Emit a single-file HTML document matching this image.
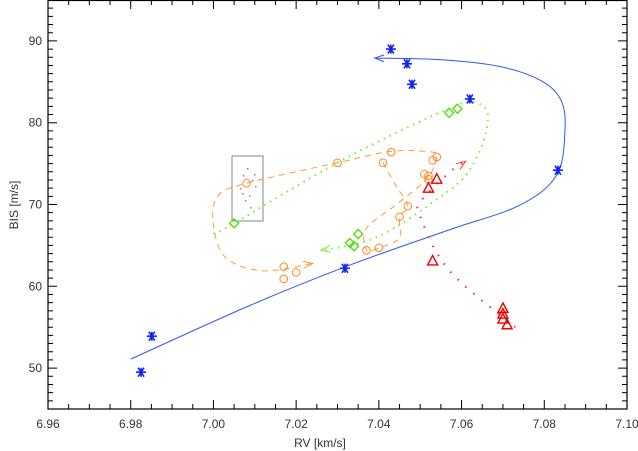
<!DOCTYPE html>
<html><head><meta charset="utf-8"><style>
html,body{margin:0;padding:0;background:#fff;}
svg{display:block;font-family:"Liberation Sans",sans-serif;}
</style></head><body>
<svg id="chart" width="638" height="451" viewBox="0 0 638 451">
<g id="axes"></g>
<g id="series"></g>
<text x="320" y="447" text-anchor="middle" font-size="12" fill="#333">RV [km/s]</text>
<text transform="translate(18,205) rotate(-90)" text-anchor="middle" font-size="12" fill="#333">BIS [m/s]</text>
</svg>
<script>
const xTicks=[6.96,6.98,7.00,7.02,7.04,7.06,7.08,7.10];
const xTickLabels=["6.96","6.98","7.00","7.02","7.04","7.06","7.08","7.10"];
const yTicks=[50,60,70,80,90];
const yTickLabels=["50","60","70","80","90"];
const starX=[6.9825,6.9851,7.0318,7.0429,7.0468,7.0480,7.0620,7.0833];
const starY=[49.5,53.9,62.2,89.0,87.2,84.7,82.9,74.2];
const blueCurveX=[6.980,7.009,7.033,7.057,7.074,7.083,7.085,7.084,7.079,7.069,7.055,7.039];
const blueCurveY=[51.1,57.7,62.6,66.9,69.9,73.6,79.1,82.8,85.2,86.9,87.7,87.9];
const diamondX=[7.005,7.057,7.059,7.033,7.034,7.035];
const diamondY=[67.7,81.2,81.7,65.3,64.9,66.4];
const greenCurveX=[7.000,7.005,7.031,7.055,7.062,7.066,7.066,7.064,7.060,7.052,7.045,7.038,7.031,7.026];
const greenCurveY=[66.4,67.7,75.4,81.3,82.5,81.6,79.1,76.1,73.0,69.9,67.5,65.7,64.8,64.4];
const circleX=[7.008,7.030,7.043,7.041,7.054,7.053,7.051,7.052,7.052,7.047,7.045,7.037,7.040,7.017,7.017,7.020];
const circleY=[72.6,75.1,76.4,75.1,75.8,75.4,73.7,73.5,73.1,69.8,68.5,64.4,64.7,62.4,60.9,61.7];
const orangeCurveX=[7.041,7.044,7.047,7.045,7.045,7.040,7.037,7.037,7.044,7.051,7.053,7.054,7.053,7.043,7.030,7.008,7.001,7.000,7.003,7.012,7.024];
const orangeCurveY=[75.1,72.4,69.8,68.5,65.9,64.7,64.4,67.1,69.9,72.8,74.2,75.7,76.4,76.5,75.1,72.6,71.0,67.5,63.5,61.9,62.8];
const triX=[7.054,7.052,7.053,7.070,7.070,7.070,7.071];
const triY=[73.1,72.0,63.1,57.3,56.6,56.0,55.3];
const redCurveX=[7.073,7.060,7.054,7.050,7.050,7.057,7.061];
const redCurveY=[55.0,60.4,64.1,68.6,70.3,73.9,75.3];

const L=48,R=627,T=0,B=409,X0=6.96,X1=7.10,Y0=45,Y1=95;
const sx=v=>L+(v-X0)/(X1-X0)*(R-L);
const sy=v=>B-(v-Y0)/(Y1-Y0)*(B-T);
const NS="http://www.w3.org/2000/svg";
function mk(tag,attrs,parent){const e=document.createElementNS(NS,tag);for(const k in attrs)e.setAttribute(k,attrs[k]);parent.appendChild(e);return e;}
const axes=document.getElementById('axes'),ser=document.getElementById('series');

const frame=mk('rect',{x:L,y:T+0.5,width:R-L,height:B-T-0.5,fill:'none',stroke:'#000','stroke-width':1.2},axes);


for(let v=6.965;v<7.1;v+=0.005){const x=sx(v);const maj=Math.abs((v-6.96)/0.02-Math.round((v-6.96)/0.02))<0.01;const len=maj?9:5;
 const t=mk('path',{d:`M${x},${B}V${B-len}M${x},${T}V${T+len}`,stroke:'#000','stroke-width':1},axes);
 
 }
for(let v=46;v<95;v+=1){const y=sy(v);const len=(v%10===0)?9:5;
 const t=mk('path',{d:`M${L},${y}H${L+len}M${R},${y}H${R-len}`,stroke:'#000','stroke-width':1},axes);
 
 }
xTicks.forEach((v,i)=>{const t=mk('text',{x:sx(v),y:428,'text-anchor':'middle','font-size':12,fill:'#333'},axes);t.textContent=xTickLabels[i];
 
 });
yTicks.forEach((v,i)=>{const t=mk('text',{x:42,y:sy(v)+4,'text-anchor':'end','font-size':12,fill:'#333'},axes);t.textContent=yTickLabels[i];
 
 });

function smooth(xs,ys){const p=xs.map((x,i)=>[sx(x),sy(ys[i])]);let d=`M${p[0][0]},${p[0][1]}`;
 for(let i=0;i<p.length-1;i++){const p0=p[i-1]||p[i],p1=p[i],p2=p[i+1],p3=p[i+2]||p2;
  d+=`C${p1[0]+(p2[0]-p0[0])/6},${p1[1]+(p2[1]-p0[1])/6} ${p2[0]-(p3[0]-p1[0])/6},${p2[1]-(p3[1]-p1[1])/6} ${p2[0]},${p2[1]}`;}return d;}
function arrow(xs,ys,col,parent){const n=xs.length;const x2=sx(xs[n-1]),y2=sy(ys[n-1]),x1=sx(xs[n-2]),y1=sy(ys[n-2]);
 const a=Math.atan2(y2-y1,x2-x1),h=10;
 const d=`M${x2-h*Math.cos(a-0.35)},${y2-h*Math.sin(a-0.35)}L${x2},${y2}L${x2-h*Math.cos(a+0.35)},${y2-h*Math.sin(a+0.35)}`;
 const e=mk('path',{d,fill:'none',stroke:col,'stroke-width':1},parent);
 
 }

// gray box
const box=mk('rect',{x:232,y:156,width:31,height:65,fill:'none',stroke:'#7a8a8a','stroke-width':1},ser);


[[243,175],[247,168],[252,180],[240,188],[255,186],[249,195],[245,200],[254,174],[242,193],[250,207]].forEach(p=>{
 const d=mk('rect',{x:p[0],y:p[1],width:1.5,height:1.5,fill:'#888'},ser);
 
 });

const bl=mk('path',{d:smooth(blueCurveX,blueCurveY),fill:'none',stroke:'#3355ee','stroke-width':1},ser);


arrow(blueCurveX,blueCurveY,'#3355ee',ser);
const gl=mk('path',{d:smooth(greenCurveX,greenCurveY),fill:'none',stroke:'#77ee33','stroke-width':2,'stroke-dasharray':'1.5 5'},ser);


arrow(greenCurveX,greenCurveY,'#77ee33',ser);
const ol=mk('path',{d:smooth(orangeCurveX,orangeCurveY),fill:'none',stroke:'#ff9933','stroke-width':1,'stroke-dasharray':'6 5'},ser);


arrow(orangeCurveX,orangeCurveY,'#ff9933',ser);
const rl=mk('path',{d:smooth(redCurveX,redCurveY),fill:'none',stroke:'#ff2233','stroke-width':2,'stroke-dasharray':'1.5 9'},ser);


arrow(redCurveX,redCurveY,'#ff3344',ser);

starX.forEach((v,i)=>{const x=sx(v),y=sy(starY[i]),r=5;
 const s=mk('path',{d:`M${x-r},${y}H${x+r}M${x-3},${y-4.5}L${x+3},${y+4.5}M${x+3},${y-4.5}L${x-3},${y+4.5}M${x},${y-4.5}V${y+4.5}`,stroke:'#1122ee','stroke-width':1.6},ser);
 
 });
diamondX.forEach((v,i)=>{const x=sx(v),y=sy(diamondY[i]),r=4.5;
 const s=mk('path',{d:`M${x},${y-r}L${x+r},${y}L${x},${y+r}L${x-r},${y}Z`,fill:'none',stroke:'#55dd11','stroke-width':1.4},ser);
 
 });
circleX.forEach((v,i)=>{
 const s=mk('circle',{cx:sx(v),cy:sy(circleY[i]),r:3.8,fill:'none',stroke:'#ff8822','stroke-width':1},ser);
 
 });
triX.forEach((v,i)=>{const x=sx(v),y=sy(triY[i]);
 const s=mk('path',{d:`M${x},${y-5.5}L${x+5},${y+4}L${x-5},${y+4}Z`,fill:'none',stroke:'#ee0000','stroke-width':1.4},ser);
 
 });
</script>
</body></html>
